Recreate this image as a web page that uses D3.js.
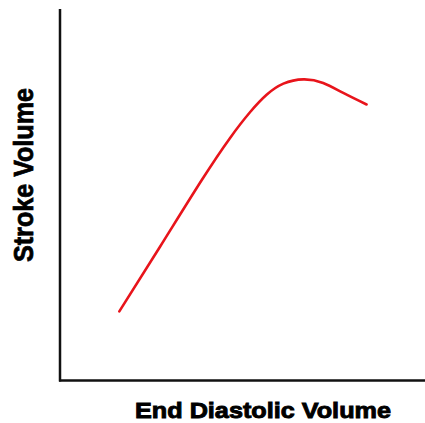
<!DOCTYPE html>
<html>
<head>
<meta charset="utf-8">
<script src="https://cdn.jsdelivr.net/npm/d3@7"></script>
<style>
  html, body { margin: 0; padding: 0; background: #fff; }
  svg { display: block; }
</style>
</head>
<body>
<svg id="chart" width="425" height="423"></svg>
<script>
// End diastolic volume (relative units) and stroke volume (relative units)
const edv = [16.25, 27.4, 38.8, 46.6, 52.05, 56.6, 61.2, 66.7, 72.1, 77.6, 84.0];
const sv  = [18.6, 36.0, 53.9, 65.3, 72.2, 76.9, 79.9, 81.05, 80.1, 77.4, 74.3];
const xLabel = "End Diastolic Volume";
const yLabel = "Stroke Volume";

(function () {
  const svg = d3.select("#chart");
  const mLeft = 60, mRight = 425, mTop = 9, mBottom = 380.5;

  const x = d3.scaleLinear().domain([0, 100]).range([mLeft, mRight]);
  const y = d3.scaleLinear().domain([0, 100]).range([mBottom, mTop]);

  // Axes (plain lines, no ticks)
  svg.append("line")
    .attr("x1", x(0)).attr("x2", x(0))
    .attr("y1", y(100)).attr("y2", y(0) + 1)
    .attr("stroke", "#111").attr("stroke-width", 2.5);
  svg.append("line")
    .attr("x1", x(0) - 1).attr("x2", x(100))
    .attr("y1", y(0)).attr("y2", y(0))
    .attr("stroke", "#111").attr("stroke-width", 2.5);

  const data = edv.map((d, i) => ({ x: d, y: sv[i] }));
  const line = d3.line()
    .x(d => x(d.x))
    .y(d => y(d.y))
    .curve(d3.curveNatural);

  svg.append("path")
    .datum(data)
    .attr("d", line)
    .attr("fill", "none")
    .attr("stroke", "#e8141b")
    .attr("stroke-width", 2.6)
    .attr("stroke-linecap", "round");

  // Axis titles
  svg.append("text")
    .attr("x", 135).attr("y", 418)
    .attr("font-family", "Liberation Sans, Arial, sans-serif")
    .attr("font-weight", "bold")
    .attr("font-size", 22)
    .attr("textLength", 256)
    .attr("lengthAdjust", "spacingAndGlyphs")
    .attr("fill", "#000")
    .attr("stroke", "#000")
    .attr("stroke-width", 0.9)
    .text(xLabel);

  svg.append("text")
    .attr("transform", "translate(32.5,262) rotate(-90)")
    .attr("x", 0).attr("y", 0)
    .attr("font-family", "Liberation Sans, Arial, sans-serif")
    .attr("font-weight", "bold")
    .attr("font-size", 28)
    .attr("textLength", 174)
    .attr("lengthAdjust", "spacingAndGlyphs")
    .attr("fill", "#000")
    .attr("stroke", "#000")
    .attr("stroke-width", 0.8)
    .text(yLabel);
})();
</script>
</body>
</html>
